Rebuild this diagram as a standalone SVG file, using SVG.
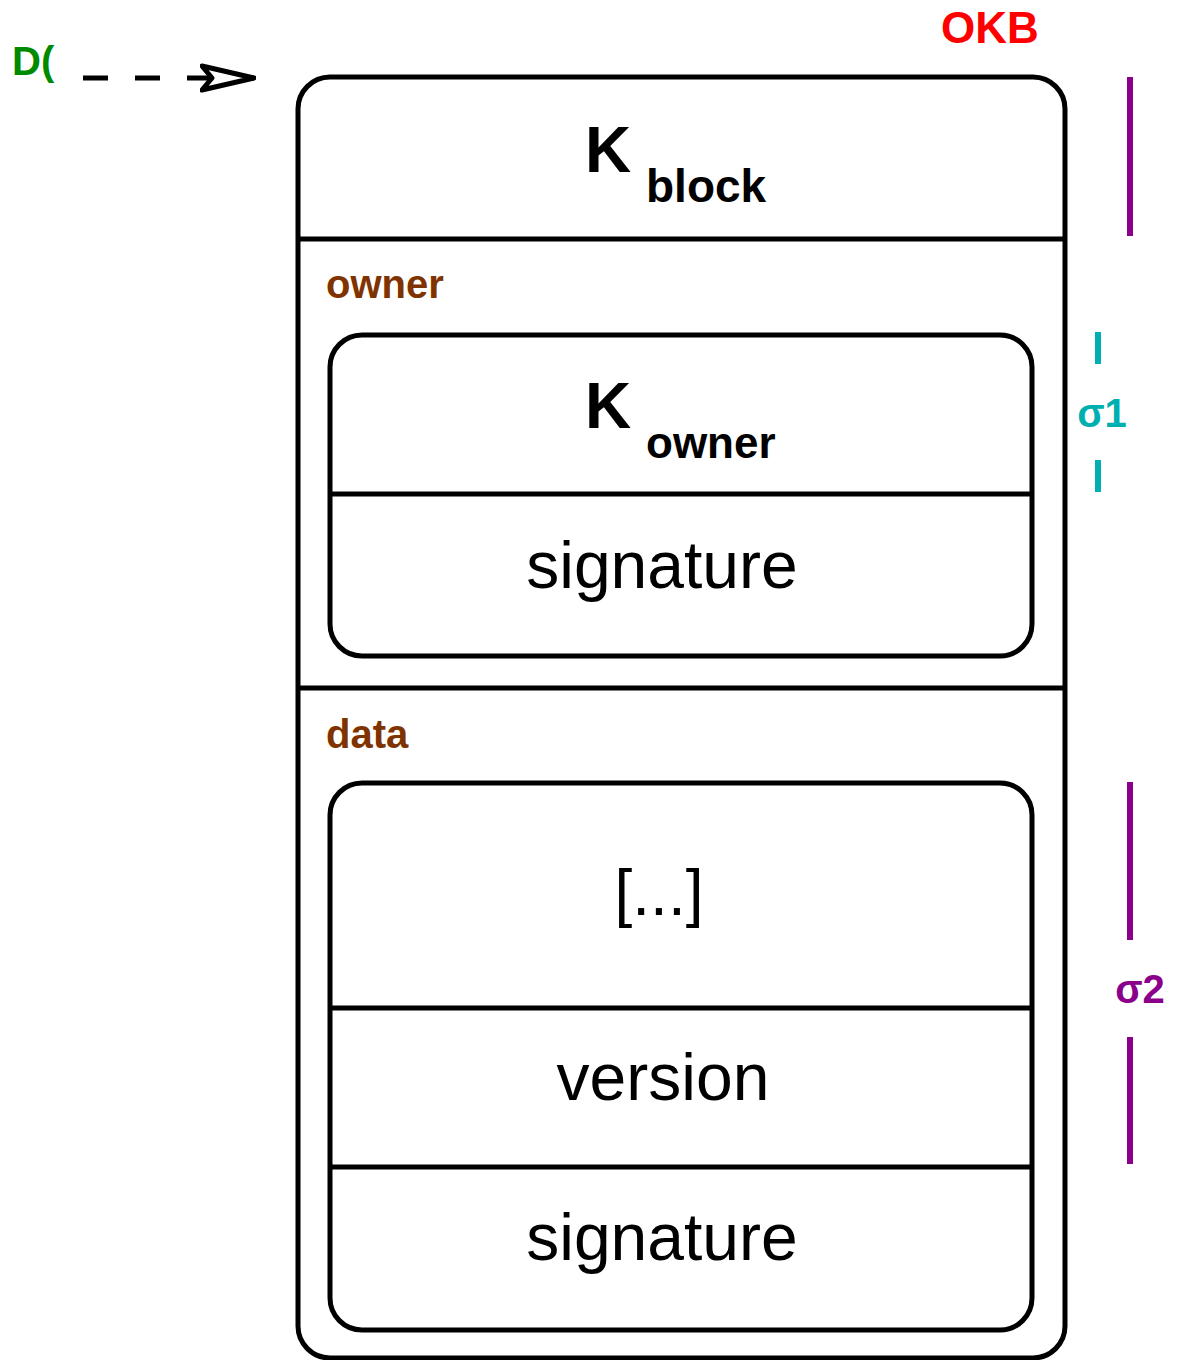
<svg xmlns="http://www.w3.org/2000/svg" width="1181" height="1360" viewBox="0 0 1181 1360">
<defs>
<style>
.box{fill:none;stroke:#000;stroke-width:5}
.div{stroke:#000;stroke-width:5}
.t{font-family:"Liberation Sans",Arial,sans-serif;fill:#000}
.lbl{font-family:"Liberation Sans",Arial,sans-serif;fill:#7f3300;font-size:40px;font-weight:bold}
</style>
<marker id="ah" markerWidth="56" markerHeight="32" refX="54" refY="16" orient="auto" markerUnits="userSpaceOnUse" viewBox="0 0 56 32">
<path d="M2,4 L54,16 L2,28 L12,16 Z" fill="#fff" stroke="#000" stroke-width="5" stroke-linejoin="round"/>
</marker>
</defs>
<rect width="1181" height="1360" fill="#fff"/>
<g id="connectors">
<line x1="83" y1="78" x2="254" y2="78" stroke="#000" stroke-width="5" stroke-dasharray="25,27" marker-end="url(#ah)"/>
</g>
<g id="source-label">
<text x="12" y="75" font-family="Liberation Sans,Arial,sans-serif" font-size="40" font-weight="bold" fill="#008a00">D(</text>
</g>
<g id="okb-label">
<text x="990" y="43" text-anchor="middle" font-family="Liberation Sans,Arial,sans-serif" font-size="44" font-weight="bold" fill="#ff0000">OKB</text>
</g>
<g id="block">
<rect class="box" x="298" y="77" width="767" height="1281" rx="32" ry="32"/>
<line class="div" x1="298" y1="239" x2="1065" y2="239"/>
<line class="div" x1="298" y1="688" x2="1065" y2="688"/>
<text class="t" x="585" y="172" font-size="64" font-weight="bold">K</text>
<text class="t" x="646" y="202" font-size="46" font-weight="bold">block</text>
<text class="lbl" x="326" y="298">owner</text>
<text class="lbl" x="326" y="748">data</text>
</g>
<g id="owner">
<rect class="box" x="330" y="335" width="702" height="321" rx="32" ry="32"/>
<line class="div" x1="330" y1="494" x2="1032" y2="494"/>
<text class="t" x="585" y="428" font-size="64" font-weight="bold">K</text>
<text class="t" x="646" y="458" font-size="44" font-weight="bold">owner</text>
<text class="t" x="662" y="588" font-size="66" text-anchor="middle">signature</text>
</g>
<g id="data">
<rect class="box" x="330" y="783" width="702" height="547" rx="32" ry="32"/>
<line class="div" x1="330" y1="1008" x2="1032" y2="1008"/>
<line class="div" x1="330" y1="1167" x2="1032" y2="1167"/>
<text class="t" x="659" y="915" font-size="64" text-anchor="middle">[...]</text>
<text class="t" x="663" y="1100" font-size="66" text-anchor="middle">version</text>
<text class="t" x="662" y="1260" font-size="66" text-anchor="middle">signature</text>
</g>
<g id="sig-ranges">
<line x1="1130" y1="77" x2="1130" y2="236" stroke="#8b008b" stroke-width="6"/>
<line x1="1098" y1="332" x2="1098" y2="364" stroke="#00b0b0" stroke-width="6"/>
<line x1="1098" y1="460" x2="1098" y2="492" stroke="#00b0b0" stroke-width="6"/>
<text x="1102" y="427" text-anchor="middle" font-family="Liberation Sans,Arial,sans-serif" font-size="40" font-weight="bold" fill="#00b0b0">σ1</text>
<line x1="1130" y1="782" x2="1130" y2="940" stroke="#8b008b" stroke-width="6"/>
<line x1="1130" y1="1037" x2="1130" y2="1164" stroke="#8b008b" stroke-width="6"/>
<text x="1140" y="1003" text-anchor="middle" font-family="Liberation Sans,Arial,sans-serif" font-size="40" font-weight="bold" fill="#8b008b">σ2</text>
</g>
</svg>
